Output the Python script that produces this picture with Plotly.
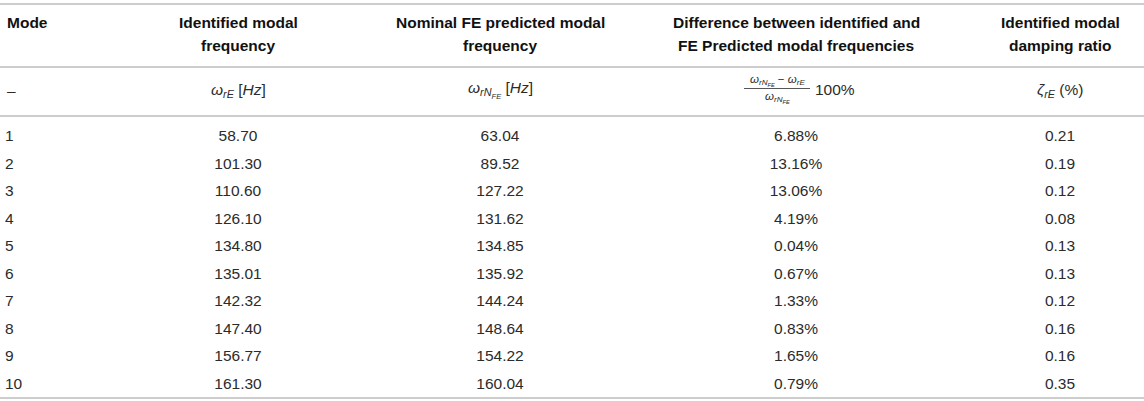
import plotly.graph_objects as go

# table values
MODES = [1, 2, 3, 4, 5, 6, 7, 8, 9, 10]
IDENTIFIED = [58.70, 101.30, 110.60, 126.10, 134.80, 135.01, 142.32, 147.40, 156.77, 161.30]
NOMINAL_FE = [63.04, 89.52, 127.22, 131.62, 134.85, 135.92, 144.24, 148.64, 154.22, 160.04]
DIFF_PCT = [6.88, 13.16, 13.06, 4.19, 0.04, 0.67, 1.33, 0.83, 1.65, 0.79]
DAMPING = [0.21, 0.19, 0.12, 0.08, 0.13, 0.13, 0.12, 0.16, 0.16, 0.35]

HEADERS = [
    ["Mode"],
    ["Identified modal", "frequency"],
    ["Nominal FE predicted modal", "frequency"],
    ["Difference between identified and", "FE Predicted modal frequencies"],
    ["Identified modal", "damping ratio"],
]
UNITS = [
    "–",
    "<i>ω</i><sub><i>rE</i></sub> [<i>Hz</i>]",
    "<i>ω</i><sub><i>rN</i><sub><i>FE</i></sub></sub> [<i>Hz</i>]",
    None,
    "<i>ζ</i><sub><i>rE</i></sub> (%)",
]

# layout (pixels of a 1144 x 401 page)
W, H = 1144, 401
COL_X = [5, 238, 500, 796, 1060]
ROW1_PX, ROW_STEP = 137.5, 27.5
HEAD_LINES_PX = [23, 45]
RULES_PX = [4, 67, 116, 398]
FONT = "Liberation Sans, Arial, sans-serif"
TXT = "#2b2b2b"
FS = 15.5


def py(px):
    return 1 - px / H


fig = go.Figure()

columns = [
    [str(m) for m in MODES],
    [f"{v:.2f}" for v in IDENTIFIED],
    [f"{v:.2f}" for v in NOMINAL_FE],
    [f"{v:.2f}%" for v in DIFF_PCT],
    [f"{v:.2f}" for v in DAMPING],
]
for j, col in enumerate(columns):
    fig.add_trace(go.Scatter(
        x=[COL_X[j]] * len(MODES), y=MODES, text=col, mode="text",
        textposition="middle right" if j == 0 else "middle center",
        textfont=dict(family=FONT, size=FS, color=TXT),
        hoverinfo="skip", showlegend=False,
    ))

# header row, one annotation per line
for j, lines in enumerate(HEADERS):
    for k, line in enumerate(lines):
        fig.add_annotation(
            x=COL_X[j], y=py(HEAD_LINES_PX[k]), xref="x", yref="paper",
            text=f"<b>{line}</b>", showarrow=False,
            xanchor="left" if j == 0 else "center", yanchor="middle",
            font=dict(family=FONT, size=FS, color="#111111"),
        )

# unit / formula row
for j, u in enumerate(UNITS):
    if u is None:
        continue
    fig.add_annotation(
        x=COL_X[j], y=py(90), xref="x", yref="paper", text=u, showarrow=False,
        xanchor="left" if j == 0 else "center", yanchor="middle",
        font=dict(family=FONT, size=FS, color=TXT),
    )

# fraction in the difference column
frac_x = 777
fig.add_annotation(
    x=frac_x, y=py(81), xref="x", yref="paper", showarrow=False,
    text="<i>ω</i><sub><i>rN</i><sub><i>FE</i></sub></sub> − <i>ω</i><sub><i>rE</i></sub>",
    xanchor="center", yanchor="middle", font=dict(family=FONT, size=11.5, color=TXT),
)
fig.add_annotation(
    x=frac_x, y=py(97), xref="x", yref="paper", showarrow=False,
    text="<i>ω</i><sub><i>rN</i><sub><i>FE</i></sub></sub>",
    xanchor="center", yanchor="middle", font=dict(family=FONT, size=11.5, color=TXT),
)
fig.add_shape(type="line", xref="x", yref="paper", x0=744, x1=810, y0=py(88.5), y1=py(88.5),
              line=dict(color=TXT, width=0.8))
fig.add_annotation(
    x=813, y=py(89), xref="x", yref="paper", text="100%", showarrow=False,
    xanchor="left", yanchor="middle", font=dict(family=FONT, size=FS, color=TXT),
)

for r in RULES_PX:
    fig.add_shape(type="line", xref="paper", yref="paper", x0=0, x1=1, y0=py(r), y1=py(r),
                  line=dict(color="#bdbdbd", width=1.5))

# y axis in mode units so that mode 1 sits at ROW1_PX
y_top = MODES[0] - ROW1_PX / ROW_STEP
y_bot = MODES[0] + (H - ROW1_PX) / ROW_STEP
fig.update_xaxes(range=[0, W], visible=False, fixedrange=True)
fig.update_yaxes(range=[y_bot, y_top], visible=False, fixedrange=True)
fig.update_layout(
    width=W, height=H, margin=dict(l=0, r=0, t=0, b=0),
    paper_bgcolor="white", plot_bgcolor="white",
)

fig.write_html("out.html", config={"displayModeBar": False},
               post_script="document.body.style.margin='0';document.body.style.overflow='hidden';")
